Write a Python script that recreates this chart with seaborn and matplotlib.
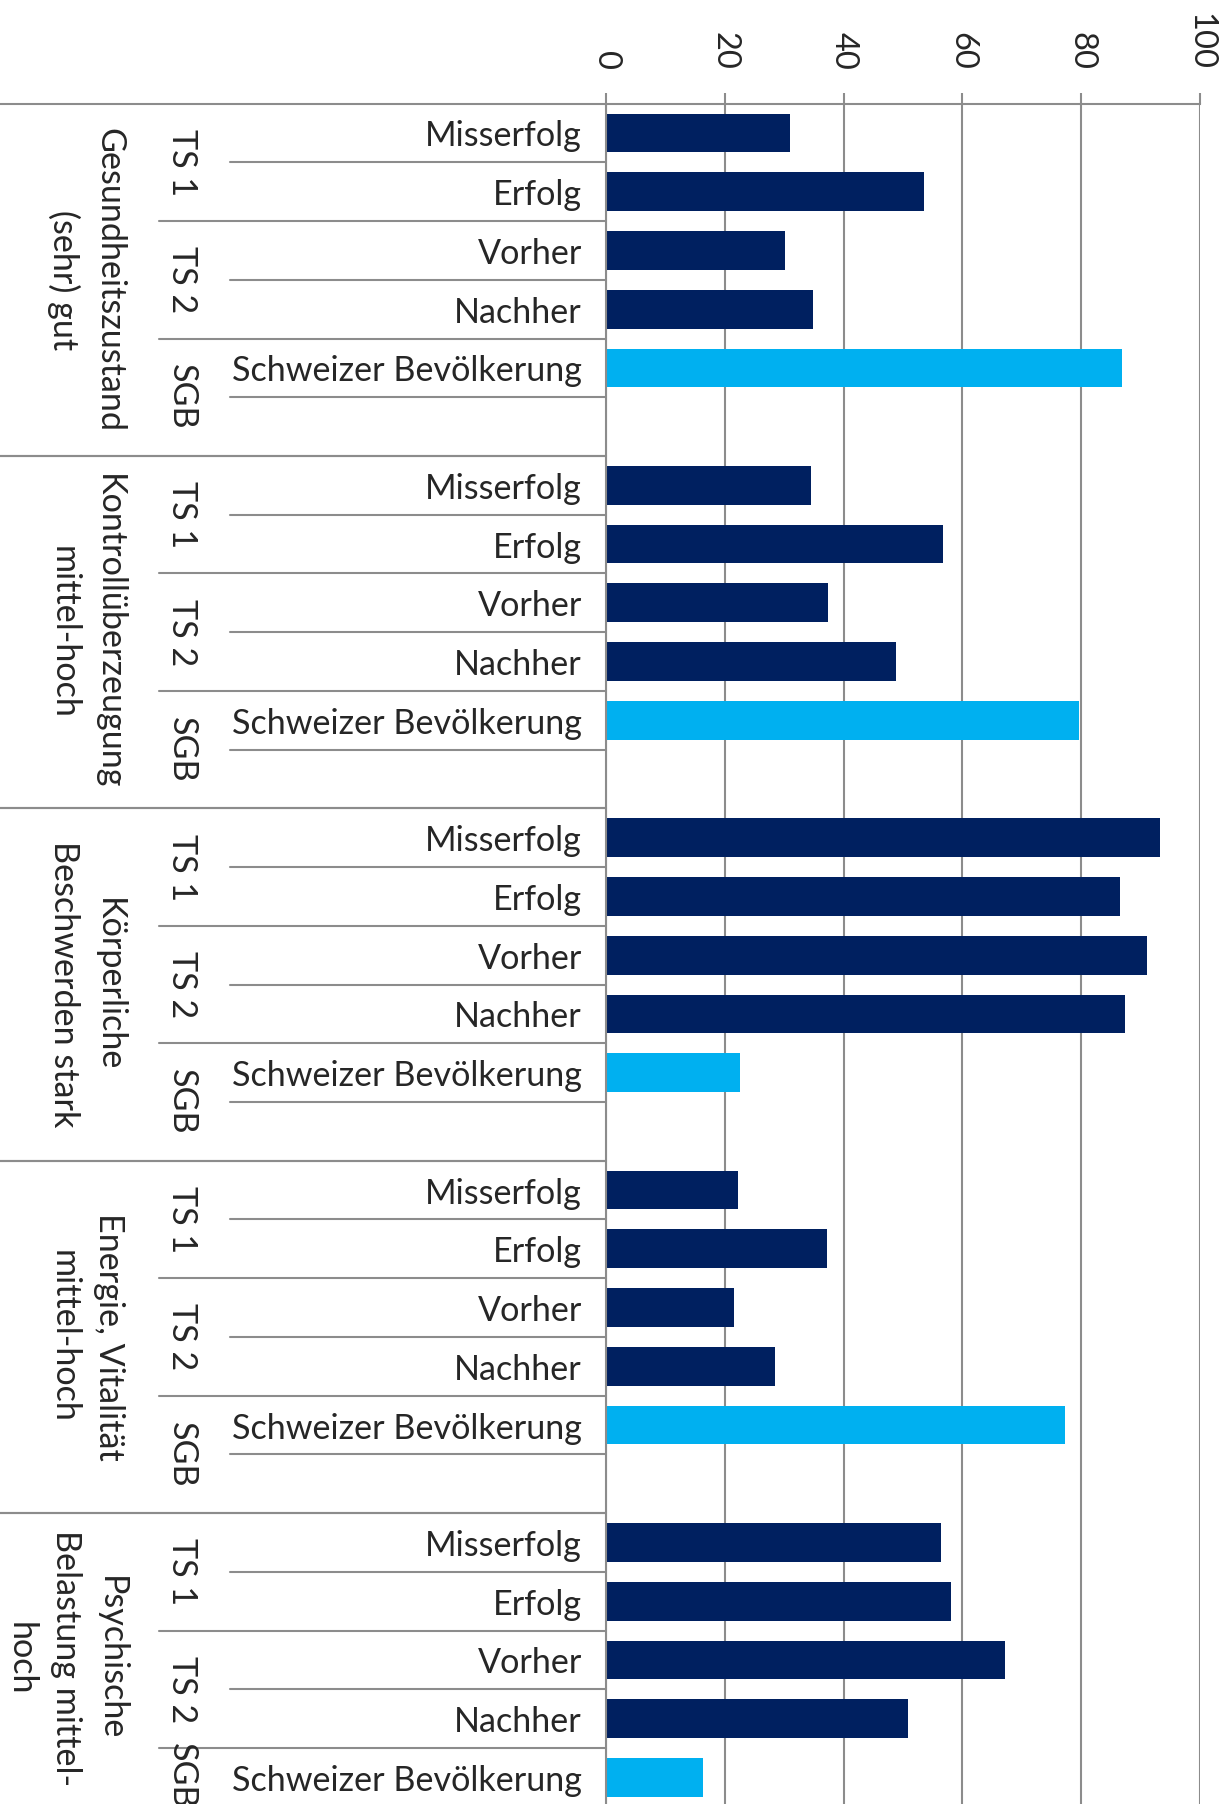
import numpy as np
import pandas as pd
import matplotlib
matplotlib.use("Agg")
import matplotlib.pyplot as plt
import matplotlib.transforms as mtransforms
import seaborn as sns

# Kategorien (Gruppen) und Zeilen
gruppen = ["Gesundheitszustand\n(sehr) gut",
           "Kontrollüberzeugung\nmittel-hoch",
           "Körperliche\nBeschwerden stark",
           "Energie, Vitalität\nmittel-hoch",
           "Psychische\nBelastung mittel-\nhoch"]
zeilen = ["Misserfolg", "Erfolg", "Vorher", "Nachher", "Schweizer Bevölkerung"]
quellen = ["TS", "TS", "TS", "TS", "SGB"]
teilstudien = ["TS 1", "TS 2", "SGB"]

# Werte in %
gesundheit = [31.0, 53.5, 30.2, 34.9, 86.8]
kontrolle = [34.5, 56.8, 37.4, 48.8, 79.7]
beschwerden = [93.2, 86.6, 91.1, 87.4, 22.5]
energie = [22.3, 37.2, 21.5, 28.5, 77.3]
psyche = [56.4, 58.1, 67.1, 50.8, 16.3]
werte = [gesundheit, kontrolle, beschwerden, energie, psyche]

x_ticks = [0, 20, 40, 60, 80, 100]

sns.set_theme(style="white")
plt.rcParams['font.family'] = ['Lato', 'DejaVu Sans']

rows = []
for g, vals in enumerate(werte):
    for s, v in enumerate(vals):
        rows.append({"pos": g * 6 + s, "wert": v, "quelle": quellen[s]})
df = pd.DataFrame(rows)

W, H = 1230, 1804
top_px = 103.6
slot_px = 58.73
x0_px, x1_px = 606, 1200
y_bottom = (H - top_px) / slot_px - 0.5
fs = 24.6

fig = plt.figure(figsize=(W / 100, H / 100), dpi=100)
ax = fig.add_axes([x0_px / W, 0, (x1_px - x0_px) / W, (H - top_px) / H])

sns.barplot(data=df, x="wert", y="pos", hue="quelle", orient="h", native_scale=True,
            dodge=False, width=0.66, saturation=1, linewidth=0, legend=False,
            palette={"TS": "#002060", "SGB": "#00B0F0"}, ax=ax)

grau = "#8c8c8c"
ax.set_xlim(0, 100)
ax.set_ylim(y_bottom, -0.5)
ax.set_xticks(x_ticks)
ax.set_xticklabels([str(t) for t in x_ticks], rotation=-90, fontsize=23.5)
ax.xaxis.tick_top()
ax.tick_params(axis="x", direction="out", length=8, width=1.5, color=grau, pad=16)
ax.set_yticks([])
ax.set_xlabel("")
ax.set_ylabel("")
ax.grid(axis="x", color=grau, linewidth=1.5)
ax.set_axisbelow(True)
for side in ["right", "bottom"]:
    ax.spines[side].set_visible(False)
for side in ["left", "top"]:
    ax.spines[side].set_color(grau)
    ax.spines[side].set_linewidth(1.5)

# mehrstufige Kategorienachse links
def fx(px):
    return (px - x0_px) / (x1_px - x0_px)

trans = mtransforms.blended_transform_factory(ax.transAxes, ax.transData)
lw = 1.5
for g, gname in enumerate(gruppen):
    base = g * 6
    # Linien
    ax.plot([fx(0), 0], [base - 0.5, base - 0.5], transform=trans, clip_on=False, color=grau, lw=lw)
    ax.plot([fx(0), 0], [base + 5.5, base + 5.5], transform=trans, clip_on=False, color=grau, lw=lw)
    for s in [0.5, 2.5, 4.5]:
        ax.plot([fx(230), 0], [base + s, base + s], transform=trans, clip_on=False, color=grau, lw=lw)
    for s in [1.5, 3.5]:
        ax.plot([fx(159), 0], [base + s, base + s], transform=trans, clip_on=False, color=grau, lw=lw)
    # Zeilenbeschriftungen
    for s, z in enumerate(zeilen):
        ax.text(fx(582), base + s + 0.06, z, transform=trans, ha="right", va="center", fontsize=fs)
    # Teilstudien
    for k, ts in enumerate(teilstudien):
        a, b = base + 2 * k - 0.5, min(base + 2 * k + 1.5, y_bottom)
        ax.text(fx(182), (a + b) / 2, ts, transform=trans, ha="center", va="center",
                rotation=-90, fontsize=fs)
    # Gruppenbeschriftung
    a, b = base - 0.5, min(base + 5.5, y_bottom)
    n_lines = gname.count("\n") + 1
    gx = 86.5 if n_lines == 2 else 65.6
    ax.text(fx(gx), (a + b) / 2, gname, transform=trans, ha="center", va="center",
            rotation=-90, multialignment="center", fontsize=fs, linespacing=1.5)

fig.savefig("out.png", dpi=100)
